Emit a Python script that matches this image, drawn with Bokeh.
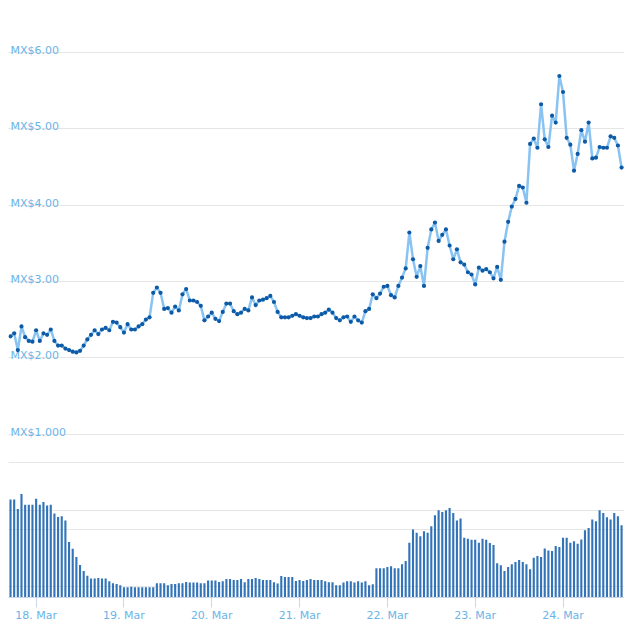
import pandas as pd
from bokeh.plotting import figure
from bokeh.models import Range1d, FixedTicker, DatetimeTickFormatter, Grid, ColumnDataSource
from bokeh.core.properties import value
from bokeh.embed import file_html
from bokeh.resources import INLINE

# ---------------- data ----------------
start_time = "2020-03-17 17:00"

price = [
    2.28, 2.32, 2.10, 2.41, 2.27, 2.22, 2.21, 2.36, 2.22, 2.32,
    2.30, 2.37, 2.22, 2.16, 2.16, 2.12, 2.10, 2.08, 2.07, 2.09,
    2.16, 2.24, 2.30, 2.36, 2.31, 2.37, 2.39, 2.36, 2.47, 2.46,
    2.40, 2.33, 2.44, 2.37, 2.37, 2.41, 2.44, 2.50, 2.53,
    2.85, 2.92, 2.85, 2.64, 2.65, 2.59, 2.67, 2.62, 2.83, 2.90,
    2.75, 2.75, 2.73, 2.68, 2.49, 2.54, 2.59, 2.51, 2.48, 2.60,
    2.71, 2.71, 2.61, 2.57, 2.59, 2.64, 2.62, 2.79, 2.69, 2.75,
    2.76, 2.78, 2.81, 2.73, 2.60, 2.53, 2.53, 2.53, 2.55, 2.57,
    2.55, 2.53, 2.52, 2.52, 2.54, 2.54, 2.57, 2.59, 2.63,
    2.59, 2.52, 2.49, 2.53, 2.54, 2.47, 2.54, 2.49, 2.46, 2.61,
    2.64, 2.83, 2.78, 2.84, 2.93, 2.94, 2.82, 2.79, 2.94, 3.05,
    3.17, 3.64, 3.29, 3.06, 3.20, 2.94, 3.44, 3.68, 3.77, 3.53,
    3.61, 3.68, 3.47, 3.29, 3.42, 3.25, 3.22, 3.12, 3.09, 2.96,
    3.18, 3.14, 3.16, 3.12, 3.04,
    3.19, 3.02, 3.52, 3.78, 3.98, 4.08, 4.25, 4.23, 4.03, 4.80,
    4.87, 4.75, 5.32, 4.86, 4.76, 5.17, 5.08, 5.69, 5.48, 4.88,
    4.79, 4.45, 4.67, 4.98, 4.83, 5.08, 4.61, 4.62, 4.76, 4.75,
    4.75, 4.90, 4.88, 4.78, 4.49,
]

volume = [
    1.45, 1.45, 1.31, 1.53, 1.37, 1.37, 1.37, 1.46, 1.37, 1.41,
    1.36, 1.37, 1.24, 1.19, 1.20, 1.14, 0.82, 0.72, 0.60, 0.48,
    0.39, 0.32, 0.28, 0.28, 0.29, 0.28, 0.28, 0.24, 0.21, 0.20,
    0.18, 0.15, 0.15, 0.16, 0.15, 0.15, 0.15, 0.15, 0.15, 0.15,
    0.21, 0.21, 0.21, 0.18, 0.20, 0.20, 0.21, 0.21, 0.23, 0.22,
    0.22, 0.22, 0.21, 0.21, 0.25, 0.25, 0.25, 0.23,
    0.24, 0.275, 0.275, 0.26, 0.26, 0.275, 0.225, 0.275, 0.275, 0.29,
    0.275, 0.26, 0.26, 0.26, 0.225, 0.206, 0.319, 0.304, 0.304, 0.304,
    0.245, 0.26, 0.245, 0.26, 0.275, 0.26, 0.26, 0.26, 0.24, 0.225,
    0.225, 0.181, 0.181, 0.22, 0.24, 0.24, 0.22, 0.24, 0.22, 0.24,
    0.181, 0.196, 0.431, 0.431, 0.431, 0.451, 0.461, 0.431, 0.431, 0.49,
    0.539, 0.809, 1.005, 0.956,
    0.907, 0.98, 0.956, 1.054, 1.216, 1.289, 1.265, 1.289, 1.324, 1.25,
    1.137, 1.167, 0.882, 0.868, 0.853, 0.853, 0.809, 0.868, 0.853, 0.804,
    0.775, 0.505, 0.475, 0.392, 0.451, 0.49, 0.525, 0.554, 0.525, 0.49,
    0.417, 0.588, 0.613, 0.598, 0.725, 0.696, 0.686, 0.76, 0.745, 0.882,
    0.882, 0.809, 0.833, 0.794, 0.858, 0.995, 1.029, 1.152, 1.127, 1.289,
    1.25, 1.186, 1.152, 1.25, 1.201, 1.069,
]

y_tick_values = [6, 5, 4, 3, 2, 1]
y_tick_labels = ["MX$6.00", "MX$5.00", "MX$4.00", "MX$3.00", "MX$2.00", "MX$1.000"]
x_tick_dates = ["2020-03-18", "2020-03-19", "2020-03-20", "2020-03-21",
                "2020-03-22", "2020-03-23", "2020-03-24"]
vol_grid_values = [0, 1, 2]

# ---------------- styles ----------------
LABEL_COLOR = "#6ab4e8"
GRID_COLOR = "#e6e6e6"
AXIS_COLOR = "#ccd6eb"
LINE_COLOR = "#88c3f2"
DOT_COLOR = "#0d5aa7"
BAR_COLOR = "#3374b9"
FONT = "DejaVu Sans"

times = pd.date_range(start_time, periods=len(price), freq="h")
hour = pd.Timedelta(hours=1)
x_start = times[0] - 0.55 * hour
x_end = times[-1] + 0.8 * hour

src = ColumnDataSource(dict(t=times, price=price, vol=volume))

p = figure(
    width=624, height=624,
    x_axis_type="datetime",
    x_range=Range1d(x_start, x_end),
    y_range=Range1d(-1.1401, 6.4169),
    y_axis_location=None,
    title=None,
    output_backend="svg",
    toolbar_location=None,
    min_border_left=8, min_border_right=0,
    min_border_top=20, min_border_bottom=24,
)
p.outline_line_color = None
p.background_fill_color = "white"
p.border_fill_color = "white"
p.extra_y_ranges = {"vol": Range1d(0, 8.529)}

# grids
p.xgrid.grid_line_color = None
p.add_layout(Grid(dimension=1, ticker=FixedTicker(ticks=y_tick_values),
                  grid_line_color=GRID_COLOR, grid_line_width=1))
p.add_layout(Grid(dimension=1, ticker=FixedTicker(ticks=vol_grid_values),
                  y_range_name="vol",
                  grid_line_color=GRID_COLOR, grid_line_width=1))

# x axis
tick_ms = [pd.Timestamp(d).value // 10**6 for d in x_tick_dates]
xa = p.xaxis[0]
xa.ticker = FixedTicker(ticks=tick_ms)
fmt = "%d. %b"
xa.formatter = DatetimeTickFormatter(milliseconds=fmt, seconds=fmt, minsec=fmt, minutes=fmt,
                                     hourmin=fmt, hours=fmt, days=fmt, months=fmt, years=fmt)
xa.axis_line_color = AXIS_COLOR
xa.major_tick_line_color = AXIS_COLOR
xa.major_tick_out = 10
xa.major_tick_in = 0
xa.minor_tick_line_color = None
xa.major_label_standoff = 1
xa.major_label_text_color = LABEL_COLOR
xa.major_label_text_font = FONT
xa.major_label_text_font_size = "11px"

# y labels inside the plot
lab_src = ColumnDataSource(dict(x=[x_start] * len(y_tick_values), y=y_tick_values, text=y_tick_labels))
p.text(x="x", y="y", text="text", source=lab_src, x_offset=2, y_offset=-2,
       text_align="left", text_baseline="alphabetic",
       text_color=LABEL_COLOR, text_font=value(FONT), text_font_size="11px")

# volume bars
p.vbar(x="t", top="vol", bottom=0, width=0.58 * 3600000, source=src,
       y_range_name="vol", fill_color=BAR_COLOR, line_color=None)

# price line + markers
p.line(x="t", y="price", source=src, line_color=LINE_COLOR, line_width=2.5)
p.scatter(x="t", y="price", source=src, size=4.2, fill_color=DOT_COLOR, line_color=None)

open("out.html", "w").write(file_html(p, INLINE))
